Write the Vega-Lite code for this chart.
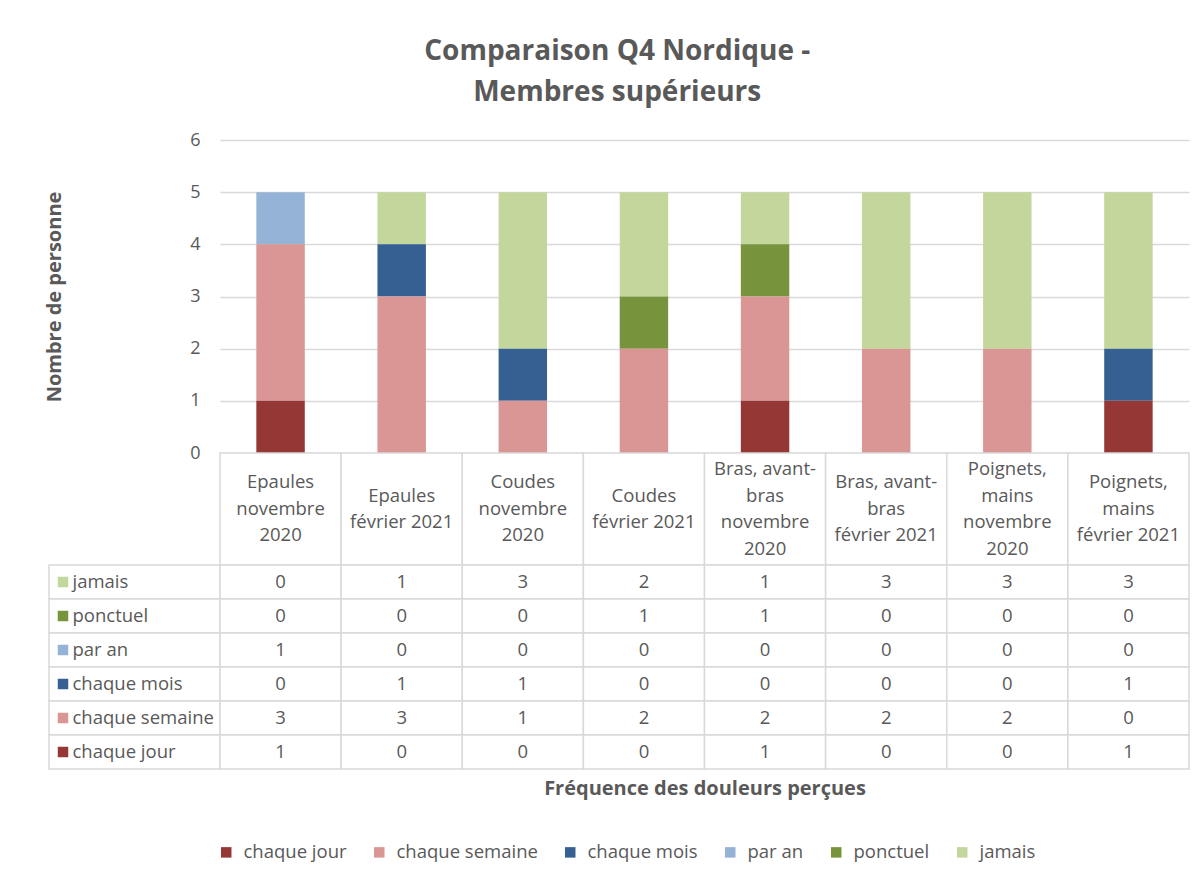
{
  "$schema": "https://vega.github.io/schema/vega-lite/v6.json",
  "background": "white",
  "padding": {"left": 44, "top": 38, "right": 8, "bottom": 8},
  "title": {
    "text": ["Comparaison Q4 Nordique -", "Membres supérieurs"],
    "font": "Open Sans", "fontSize": 28, "fontWeight": "bold", "color": "#595959",
    "lineHeight": 41, "anchor": "middle", "offset": 24
  },
  "data": {"values": [
    {"cat": "Epaules novembre 2020", "serie": "jamais", "n": 0},
    {"cat": "Epaules novembre 2020", "serie": "ponctuel", "n": 0},
    {"cat": "Epaules novembre 2020", "serie": "par an", "n": 1},
    {"cat": "Epaules novembre 2020", "serie": "chaque mois", "n": 0},
    {"cat": "Epaules novembre 2020", "serie": "chaque semaine", "n": 3},
    {"cat": "Epaules novembre 2020", "serie": "chaque jour", "n": 1},
    {"cat": "Epaules février 2021", "serie": "jamais", "n": 1},
    {"cat": "Epaules février 2021", "serie": "ponctuel", "n": 0},
    {"cat": "Epaules février 2021", "serie": "par an", "n": 0},
    {"cat": "Epaules février 2021", "serie": "chaque mois", "n": 1},
    {"cat": "Epaules février 2021", "serie": "chaque semaine", "n": 3},
    {"cat": "Epaules février 2021", "serie": "chaque jour", "n": 0},
    {"cat": "Coudes novembre 2020", "serie": "jamais", "n": 3},
    {"cat": "Coudes novembre 2020", "serie": "ponctuel", "n": 0},
    {"cat": "Coudes novembre 2020", "serie": "par an", "n": 0},
    {"cat": "Coudes novembre 2020", "serie": "chaque mois", "n": 1},
    {"cat": "Coudes novembre 2020", "serie": "chaque semaine", "n": 1},
    {"cat": "Coudes novembre 2020", "serie": "chaque jour", "n": 0},
    {"cat": "Coudes février 2021", "serie": "jamais", "n": 2},
    {"cat": "Coudes février 2021", "serie": "ponctuel", "n": 1},
    {"cat": "Coudes février 2021", "serie": "par an", "n": 0},
    {"cat": "Coudes février 2021", "serie": "chaque mois", "n": 0},
    {"cat": "Coudes février 2021", "serie": "chaque semaine", "n": 2},
    {"cat": "Coudes février 2021", "serie": "chaque jour", "n": 0},
    {"cat": "Bras, avant-bras novembre 2020", "serie": "jamais", "n": 1},
    {"cat": "Bras, avant-bras novembre 2020", "serie": "ponctuel", "n": 1},
    {"cat": "Bras, avant-bras novembre 2020", "serie": "par an", "n": 0},
    {"cat": "Bras, avant-bras novembre 2020", "serie": "chaque mois", "n": 0},
    {"cat": "Bras, avant-bras novembre 2020", "serie": "chaque semaine", "n": 2},
    {"cat": "Bras, avant-bras novembre 2020", "serie": "chaque jour", "n": 1},
    {"cat": "Bras, avant-bras février 2021", "serie": "jamais", "n": 3},
    {"cat": "Bras, avant-bras février 2021", "serie": "ponctuel", "n": 0},
    {"cat": "Bras, avant-bras février 2021", "serie": "par an", "n": 0},
    {"cat": "Bras, avant-bras février 2021", "serie": "chaque mois", "n": 0},
    {"cat": "Bras, avant-bras février 2021", "serie": "chaque semaine", "n": 2},
    {"cat": "Bras, avant-bras février 2021", "serie": "chaque jour", "n": 0},
    {"cat": "Poignets, mains novembre 2020", "serie": "jamais", "n": 3},
    {"cat": "Poignets, mains novembre 2020", "serie": "ponctuel", "n": 0},
    {"cat": "Poignets, mains novembre 2020", "serie": "par an", "n": 0},
    {"cat": "Poignets, mains novembre 2020", "serie": "chaque mois", "n": 0},
    {"cat": "Poignets, mains novembre 2020", "serie": "chaque semaine", "n": 2},
    {"cat": "Poignets, mains novembre 2020", "serie": "chaque jour", "n": 0},
    {"cat": "Poignets, mains février 2021", "serie": "jamais", "n": 3},
    {"cat": "Poignets, mains février 2021", "serie": "ponctuel", "n": 0},
    {"cat": "Poignets, mains février 2021", "serie": "par an", "n": 0},
    {"cat": "Poignets, mains février 2021", "serie": "chaque mois", "n": 1},
    {"cat": "Poignets, mains février 2021", "serie": "chaque semaine", "n": 0},
    {"cat": "Poignets, mains février 2021", "serie": "chaque jour", "n": 1}
  ]},
  "columns": 2,
  "spacing": 0,
  "bounds": "flush",
  "concat": [
    {
      "width": 171, "height": 313,
      "data": {"values": []},
      "mark": {"type": "point", "opacity": 0},
      "encoding": {}
    },
    {
      "width": 969, "height": 313,
      "transform": [{"calculate": "indexof(['chaque jour','chaque semaine','chaque mois','par an','ponctuel','jamais'], datum.serie)", "as": "ord"}],
      "mark": {"type": "bar"},
      "encoding": {
        "x": {
          "field": "cat", "type": "nominal",
          "sort": ["Epaules novembre 2020", "Epaules février 2021", "Coudes novembre 2020", "Coudes février 2021", "Bras, avant-bras novembre 2020", "Bras, avant-bras février 2021", "Poignets, mains novembre 2020", "Poignets, mains février 2021"],
          "scale": {"paddingInner": 0.6, "paddingOuter": 0.3},
          "axis": null
        },
        "y": {
          "field": "n", "type": "quantitative", "stack": "zero",
          "scale": {"domain": [0, 6]},
          "axis": {
            "title": "Nombre de personne", "values": [0, 1, 2, 3, 4, 5, 6],
            "grid": true, "gridColor": "#d9d9d9", "gridWidth": 1.5,
            "domain": false, "ticks": false, "labelPadding": 20,
            "labelFont": "Open Sans", "labelFontSize": 18, "labelColor": "#595959",
            "titleFont": "Open Sans", "titleFontSize": 20, "titleFontWeight": "bold", "titleColor": "#595959",
            "titlePadding": 125
          }
        },
        "color": {
          "field": "serie", "type": "nominal", "title": null,
          "scale": {
            "domain": ["chaque jour", "chaque semaine", "chaque mois", "par an", "ponctuel", "jamais"],
            "range": ["#953735", "#D99694", "#376092", "#95B3D7", "#77933C", "#C3D69B"]
          }
        },
        "order": {"field": "ord", "type": "quantitative"}
      }
    },
    {
      "width": 171, "height": 112,
      "data": {"values": []},
      "mark": {"type": "point", "opacity": 0},
      "encoding": {}
    },
    {
      "width": 969, "height": 112,
      "transform": [
        {"filter": "datum.serie == 'jamais'"},
        {"calculate": "split(replace(replace(replace(replace(datum.cat, ' novembre ', '|novembre|'), ' février', '|février'), 'avant-', 'avant-|'), 'Poignets, ', 'Poignets,|'), '|')", "as": "lignes"}
      ],
      "encoding": {
        "x": {
          "field": "cat", "type": "nominal",
          "sort": ["Epaules novembre 2020", "Epaules février 2021", "Coudes novembre 2020", "Coudes février 2021", "Bras, avant-bras novembre 2020", "Bras, avant-bras février 2021", "Poignets, mains novembre 2020", "Poignets, mains février 2021"],
          "scale": {"paddingInner": 0, "paddingOuter": 0},
          "axis": null
        }
      },
      "layer": [
        {"mark": {"type": "rect", "fill": "white", "stroke": "#d9d9d9", "strokeWidth": 1.5}},
        {"mark": {"type": "text", "baseline": "line-top", "lineHeight": 26.5, "dy": {"expr": "-length(datum.lignes) * 13.25"},
                  "font": "Open Sans", "fontSize": 18.5, "color": "#595959"},
         "encoding": {"text": {"field": "lignes", "type": "nominal"}}}
      ]
    },
    {
      "width": 171, "height": 204,
      "transform": [{"filter": "datum.cat == 'Epaules novembre 2020'"}],
      "encoding": {
        "y": {
          "field": "serie", "type": "nominal",
          "sort": ["jamais", "ponctuel", "par an", "chaque mois", "chaque semaine", "chaque jour"],
          "scale": {"paddingInner": 0, "paddingOuter": 0}, "axis": null
        }
      },
      "layer": [
        {"mark": {"type": "rect", "fill": "white", "stroke": "#d9d9d9", "strokeWidth": 1.5}},
        {"mark": {"type": "square", "size": 110, "opacity": 1, "filled": true, "xOffset": -71.5},
         "encoding": {"color": {"field": "serie", "type": "nominal", "title": null}}},
        {"mark": {"type": "text", "align": "left", "xOffset": -62, "font": "Open Sans", "fontSize": 18.5, "color": "#595959"},
         "encoding": {"text": {"field": "serie"}}}
      ]
    },
    {
      "width": 969, "height": 204,
      "encoding": {
        "x": {
          "field": "cat", "type": "nominal",
          "sort": ["Epaules novembre 2020", "Epaules février 2021", "Coudes novembre 2020", "Coudes février 2021", "Bras, avant-bras novembre 2020", "Bras, avant-bras février 2021", "Poignets, mains novembre 2020", "Poignets, mains février 2021"],
          "scale": {"paddingInner": 0, "paddingOuter": 0},
          "axis": {
            "title": "Fréquence des douleurs perçues", "labels": false, "ticks": false, "tickSize": 0, "domain": false,
            "titleFont": "Open Sans", "titleFontSize": 20, "titleFontWeight": "bold", "titleColor": "#595959",
            "titlePadding": 9
          }
        },
        "y": {
          "field": "serie", "type": "nominal",
          "sort": ["jamais", "ponctuel", "par an", "chaque mois", "chaque semaine", "chaque jour"],
          "scale": {"paddingInner": 0, "paddingOuter": 0}, "axis": null
        }
      },
      "layer": [
        {"mark": {"type": "rect", "fill": "white", "stroke": "#d9d9d9", "strokeWidth": 1.5}},
        {"mark": {"type": "text", "font": "Open Sans", "fontSize": 18.5, "color": "#595959"},
         "encoding": {"text": {"field": "n", "type": "quantitative"}}}
      ]
    }
  ],
  "config": {
    "view": {"stroke": null},
    "legend": {
      "orient": "none", "legendX": 168, "legendY": 703, "direction": "horizontal",
      "symbolType": "square", "symbolSize": 110, "symbolStrokeWidth": 0,
      "labelFont": "Open Sans", "labelFontSize": 18.5, "labelColor": "#595959",
      "labelOffset": 8, "columnPadding": 23, "padding": 0
    }
  }
}
